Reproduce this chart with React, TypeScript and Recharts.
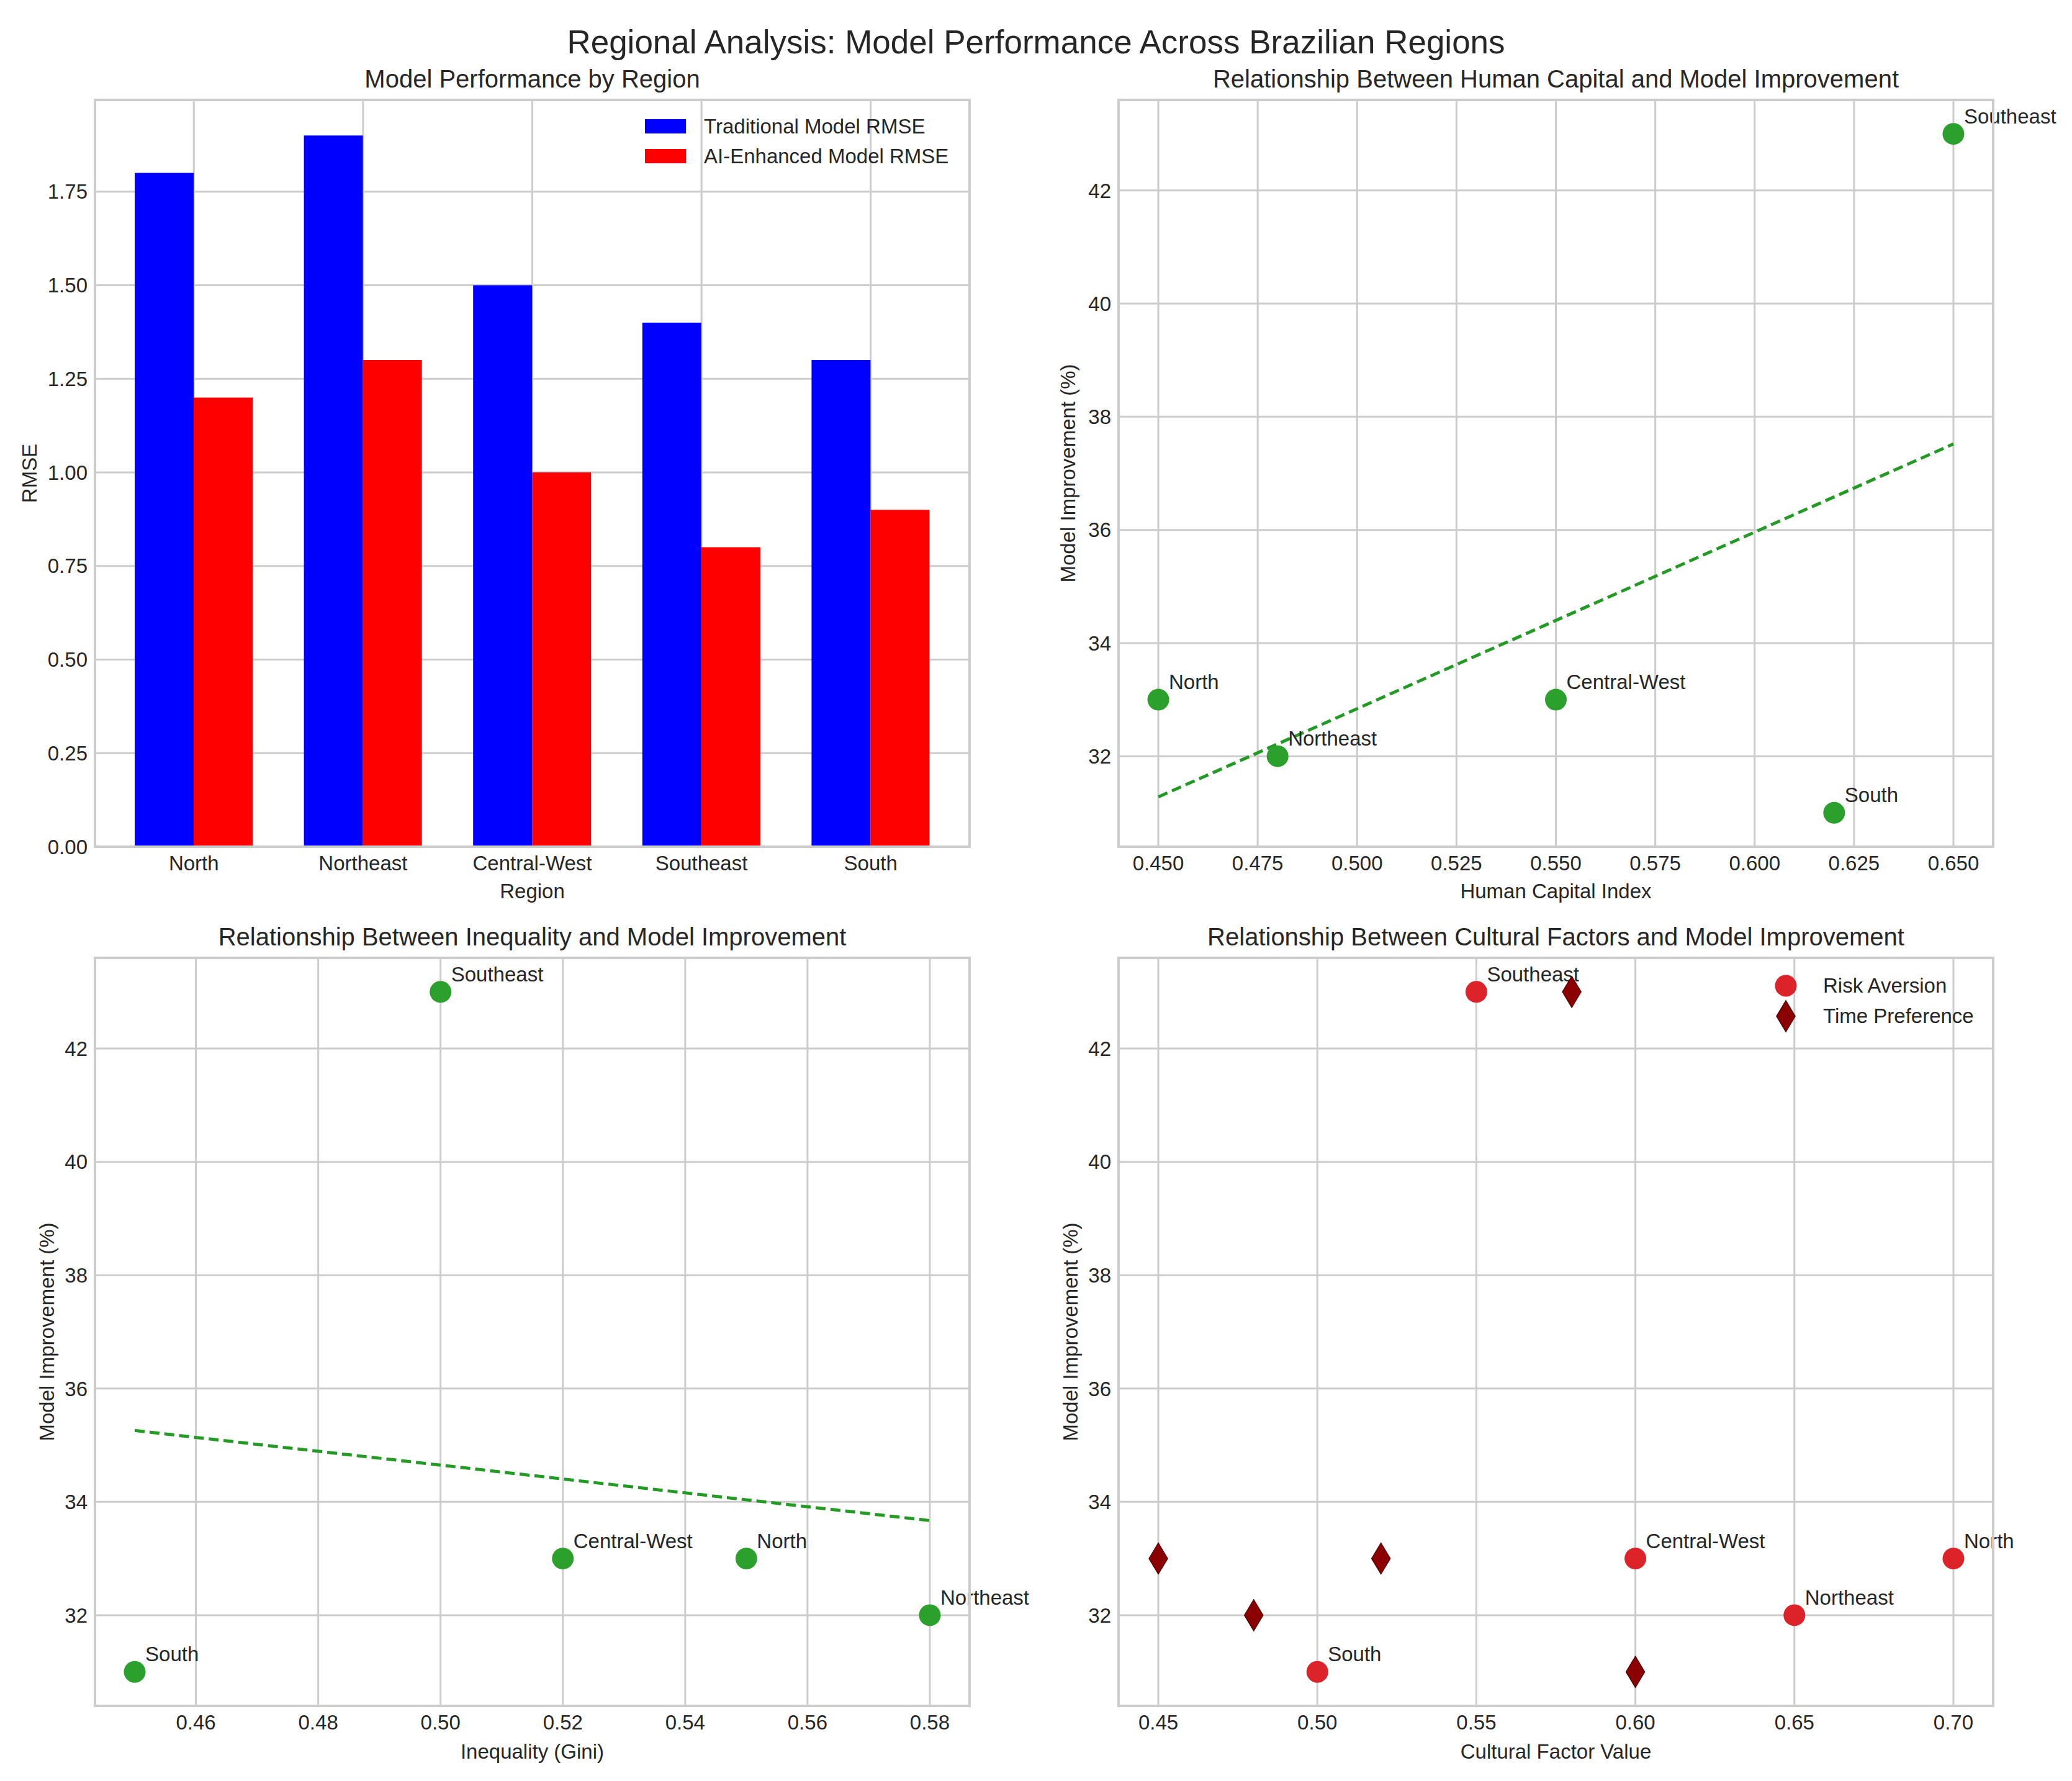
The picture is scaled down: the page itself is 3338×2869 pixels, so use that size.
import React from 'react';
import {
  BarChart,
  Bar,
  ScatterChart,
  Scatter,
  XAxis,
  YAxis,
  CartesianGrid,
} from 'recharts';

// data
const regions = ['North', 'Northeast', 'Central-West', 'Southeast', 'South'];
const traditionalRmse = [1.8, 1.9, 1.5, 1.4, 1.3];
const aiRmse = [1.2, 1.3, 1.0, 0.8, 0.9];
const improvement = [33, 32, 33, 43, 31];
const humanCapital = [0.45, 0.48, 0.55, 0.65, 0.62];
const gini = [0.55, 0.58, 0.52, 0.5, 0.45];
const riskAversion = [0.7, 0.65, 0.6, 0.55, 0.5];
const timePreference = [0.45, 0.48, 0.52, 0.58, 0.6];

// fitted trend lines (end points)
const hcFitX = [0.45, 0.65];
const hcFitY = [31.28, 37.52];
const giniFitX = [0.45, 0.58];
const giniFitY = [35.26, 33.67];

// ticks
const rmseTicks = [0, 0.25, 0.5, 0.75, 1.0, 1.25, 1.5, 1.75];
const improvementTicks = [32, 34, 36, 38, 40, 42];
const hcTicks = [0.45, 0.475, 0.5, 0.525, 0.55, 0.575, 0.6, 0.625, 0.65];
const giniTicks = [0.46, 0.48, 0.5, 0.52, 0.54, 0.56, 0.58];
const cultureTicks = [0.45, 0.5, 0.55, 0.6, 0.65, 0.7];

const FONT = '"Liberation Sans", Arial, sans-serif';
const TEXT = '#262626';
const GRID = '#cccccc';
const GREEN = '#2ca02c';
const FIT_GREEN = '#239a23';
const RED = '#dc2329';
const DARK_RED = '#8b0000';

const barData = regions.map((r, i) => ({
  region: r,
  traditional: traditionalRmse[i],
  ai: aiRmse[i],
}));
const pts = (xs: number[], ys: number[], labels?: string[]) =>
  xs.map((x, i) => ({ x, y: ys[i], label: labels ? labels[i] : '' }));

// plot rectangles in page pixels
const COL = [153, 1802];
const ROW = [161, 1543];
const PW = 1409;
const PH = [1203, 1205];

const YW = 150;
const MT = 20;
const MR = 120;
const XH = 80;

const tickStyle = { fontSize: 33, fill: TEXT, fontFamily: FONT };

const chartBox = (c: number, r: number) => ({
  style: {
    position: 'absolute' as const,
    left: COL[c] - YW,
    top: ROW[r] - MT,
  },
  width: PW + YW + MR,
  height: PH[r] + MT + XH,
});

const Dot = (color: string, labelled: boolean) => (props: any) => {
  const { cx, cy, payload } = props;
  return (
    <g>
      <circle cx={cx} cy={cy} r={17.5} fill={color} />
      {labelled && payload.label ? (
        <text x={cx + 17} y={cy - 17} fontSize={33} fill={TEXT} fontFamily={FONT}>
          {payload.label}
        </text>
      ) : null}
    </g>
  );
};

const Diamond = (props: any) => {
  const { cx, cy } = props;
  const w = 15;
  const h = 25;
  return (
    <polygon
      points={`${cx},${cy - h} ${cx + w},${cy} ${cx},${cy + h} ${cx - w},${cy}`}
      fill={DARK_RED}
      stroke="#5a0000"
      strokeWidth={1.5}
    />
  );
};

const Nothing = () => <g />;

const fitLine = { stroke: FIT_GREEN, strokeWidth: 5, strokeDasharray: '16 8' };

const ScatterPanel = ({
  c,
  r,
  domain,
  ticks,
  decimals,
  children,
}: {
  c: number;
  r: number;
  domain: [number, number];
  ticks: number[];
  decimals: number;
  children: React.ReactNode;
}) => {
  const box = chartBox(c, r);
  return (
    <div style={box.style}>
      <ScatterChart
        width={box.width}
        height={box.height}
        margin={{ top: MT, right: MR, left: 0, bottom: 0 }}
      >
        <CartesianGrid stroke={GRID} strokeWidth={3} />
        <XAxis
          type="number"
          dataKey="x"
          domain={domain}
          ticks={ticks}
          tickFormatter={(v: number) => v.toFixed(decimals)}
          height={XH}
          tick={tickStyle}
          tickLine={false}
          axisLine={false}
          tickSize={0}
          tickMargin={15}
        />
        <YAxis
          type="number"
          dataKey="y"
          domain={[30.4, 43.6]}
          ticks={improvementTicks}
          width={YW}
          tick={tickStyle}
          tickLine={false}
          axisLine={false}
          tickSize={0}
          tickMargin={12}
        />
        {children}
      </ScatterChart>
    </div>
  );
};

const Overlay = () => {
  const rects = [
    [COL[0], ROW[0], PH[0]],
    [COL[1], ROW[0], PH[0]],
    [COL[0], ROW[1], PH[1]],
    [COL[1], ROW[1], PH[1]],
  ];
  const t = { fontFamily: FONT, fill: TEXT };
  const cx0 = COL[0] + PW / 2;
  const cx1 = COL[1] + PW / 2;
  const cy0 = ROW[0] + PH[0] / 2;
  const cy1 = ROW[1] + PH[1] / 2;
  return (
    <svg
      width={3338}
      height={2869}
      style={{ position: 'absolute', left: 0, top: 0, pointerEvents: 'none' }}
    >
      {rects.map(([x, y, h], i) => (
        <rect key={i} x={x} y={y} width={PW} height={h} fill="none" stroke={GRID} strokeWidth={4} />
      ))}
      <text x={1669} y={86} fontSize={53} textAnchor="middle" {...t}>
        Regional Analysis: Model Performance Across Brazilian Regions
      </text>
      <text x={cx0} y={141} fontSize={40} textAnchor="middle" {...t}>
        Model Performance by Region
      </text>
      <text x={cx1} y={141} fontSize={40} textAnchor="middle" {...t}>
        Relationship Between Human Capital and Model Improvement
      </text>
      <text x={cx0} y={1523} fontSize={40} textAnchor="middle" {...t}>
        Relationship Between Inequality and Model Improvement
      </text>
      <text x={cx1} y={1523} fontSize={40} textAnchor="middle" {...t}>
        Relationship Between Cultural Factors and Model Improvement
      </text>

      <text x={cx0} y={1447} fontSize={33} textAnchor="middle" {...t}>Region</text>
      <text x={cx1} y={1447} fontSize={33} textAnchor="middle" {...t}>Human Capital Index</text>
      <text x={cx0} y={2833} fontSize={33} textAnchor="middle" {...t}>Inequality (Gini)</text>
      <text x={cx1} y={2833} fontSize={33} textAnchor="middle" {...t}>Cultural Factor Value</text>

      <text x={59} y={cy0} fontSize={33} textAnchor="middle" transform={`rotate(-90 59 ${cy0})`} {...t}>RMSE</text>
      <text x={1732} y={cy0} fontSize={33} textAnchor="middle" transform={`rotate(-90 1732 ${cy0})`} {...t}>
        Model Improvement (%)
      </text>
      <text x={87} y={cy1} fontSize={33} textAnchor="middle" transform={`rotate(-90 87 ${cy1})`} {...t}>
        Model Improvement (%)
      </text>
      <text x={1736} y={cy1} fontSize={33} textAnchor="middle" transform={`rotate(-90 1736 ${cy1})`} {...t}>
        Model Improvement (%)
      </text>

      {/* legend, top left */}
      <rect x={1039} y={192} width={66} height={23} fill="#0000ff" />
      <rect x={1039} y={240} width={66} height={23} fill="#ff0000" />
      <text x={1134} y={215} fontSize={33} {...t}>Traditional Model RMSE</text>
      <text x={1134} y={263} fontSize={33} {...t}>AI-Enhanced Model RMSE</text>

      {/* legend, bottom right */}
      <circle cx={2877} cy={1588} r={17.5} fill={RED} />
      <polygon
        points={`2877,${1637 - 25} ${2892},1637 2877,${1637 + 25} ${2862},1637`}
        fill={DARK_RED}
        stroke="#5a0000"
        strokeWidth={1.5}
      />
      <text x={2937} y={1599} fontSize={33} {...t}>Risk Aversion</text>
      <text x={2937} y={1648} fontSize={33} {...t}>Time Preference</text>
    </svg>
  );
};

export default function App() {
  const barBox = chartBox(0, 0);
  return (
    <div
      style={{
        position: 'absolute',
        left: 0,
        top: 0,
        width: 3338,
        height: 2869,
        background: '#ffffff',
        fontFamily: FONT,
        overflow: 'hidden',
      }}
    >
      <div style={barBox.style}>
        <BarChart
          width={barBox.width}
          height={barBox.height}
          data={barData}
          margin={{ top: MT, right: MR, left: 0, bottom: 0 }}
          barGap={0}
        >
          <CartesianGrid stroke={GRID} strokeWidth={3} />
          <XAxis
            dataKey="region"
            padding={{ left: 23, right: 23 }}
            height={XH}
            tick={tickStyle}
            tickLine={false}
            axisLine={false}
            tickSize={0}
            tickMargin={15}
            interval={0}
          />
          <YAxis
            type="number"
            domain={[0, 1.995]}
            ticks={rmseTicks}
            tickFormatter={(v: number) => v.toFixed(2)}
            width={YW}
            tick={tickStyle}
            tickLine={false}
            axisLine={false}
            tickSize={0}
            tickMargin={12}
          />
          <Bar dataKey="traditional" fill="#0000ff" barSize={95} isAnimationActive={false} />
          <Bar dataKey="ai" fill="#ff0000" barSize={95} isAnimationActive={false} />
        </BarChart>
      </div>

      <ScatterPanel c={1} r={0} domain={[0.44, 0.66]} ticks={hcTicks} decimals={3}>
        <Scatter
          data={pts(hcFitX, hcFitY)}
          line={fitLine}
          shape={Nothing}
          isAnimationActive={false}
        />
        <Scatter
          data={pts(humanCapital, improvement, regions)}
          shape={Dot(GREEN, true)}
          isAnimationActive={false}
        />
      </ScatterPanel>

      <ScatterPanel c={0} r={1} domain={[0.4435, 0.5865]} ticks={giniTicks} decimals={2}>
        <Scatter
          data={pts(giniFitX, giniFitY)}
          line={fitLine}
          shape={Nothing}
          isAnimationActive={false}
        />
        <Scatter
          data={pts(gini, improvement, regions)}
          shape={Dot(GREEN, true)}
          isAnimationActive={false}
        />
      </ScatterPanel>

      <ScatterPanel c={1} r={1} domain={[0.4375, 0.7125]} ticks={cultureTicks} decimals={2}>
        <Scatter
          data={pts(riskAversion, improvement, regions)}
          shape={Dot(RED, true)}
          isAnimationActive={false}
        />
        <Scatter
          data={pts(timePreference, improvement)}
          shape={Diamond}
          isAnimationActive={false}
        />
      </ScatterPanel>

      <Overlay />
    </div>
  );
}
